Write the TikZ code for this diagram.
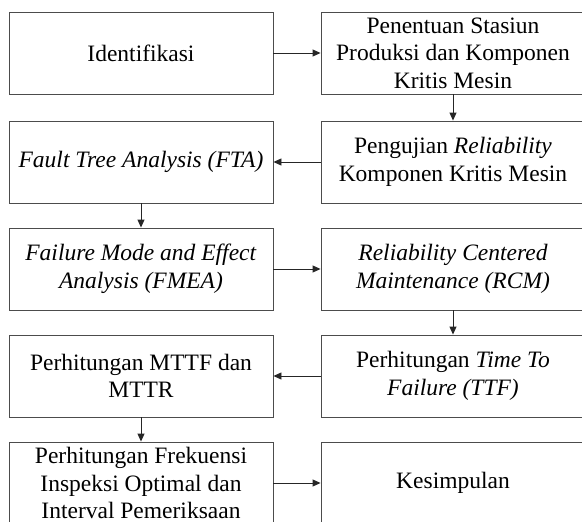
\documentclass[tikz,border=0pt]{standalone}
\usepackage{fontspec}
\setmainfont{Liberation Serif}
\usetikzlibrary{arrows.meta}
\tikzset{
    box/.style={draw=black!70, line width=0.9pt, minimum width=264pt, minimum height=82pt,
        inner sep=0pt, align=center, font=\fontsize{23.5}{27.5}\selectfont},
    flow/.style={-{Triangle[length=8pt,width=7pt]}, line width=0.9pt, black!85}
}
\begin{document}
\begin{tikzpicture}[x=1pt,y=-1pt]
    \useasboundingbox (0,0) rectangle (582,522);
    \node[box] (ident) at (141,53) {Identifikasi};
    \node[box] (stasiun) at (453,53) {Penentuan Stasiun\\Produksi dan Komponen\\Kritis Mesin};
    \node[box] (uji) at (453,162) {Pengujian \textit{Reliability}\\Komponen Kritis Mesin};
    \node[box] (fta) at (141,162) {\textit{Fault Tree Analysis (FTA)}};
    \node[box] (fmea) at (141,269) {\textit{Failure Mode and Effect}\\\textit{Analysis (FMEA)}};
    \node[box] (rcm) at (453,269) {\textit{Reliability Centered}\\\textit{Maintenance (RCM)}};
    \node[box] (ttf) at (453,376) {Perhitungan \textit{Time To}\\\textit{Failure (TTF)}};
    \node[box] (mttf) at (141,376) {Perhitungan MTTF dan\\MTTR};
    \node[box] (inspeksi) at (141,483) {Perhitungan Frekuensi\\Inspeksi Optimal dan\\Interval Pemeriksaan};
    \node[box] (simpul) at (453,483) {Kesimpulan};
    \draw [flow] (ident) -- (stasiun);
    \draw [flow] (stasiun) -- (uji);
    \draw [flow] (uji) -- (fta);
    \draw [flow] (fta) -- (fmea);
    \draw [flow] (fmea) -- (rcm);
    \draw [flow] (rcm) -- (ttf);
    \draw [flow] (ttf) -- (mttf);
    \draw [flow] (mttf) -- (inspeksi);
    \draw [flow] (inspeksi) -- (simpul);
\end{tikzpicture}
\end{document}
